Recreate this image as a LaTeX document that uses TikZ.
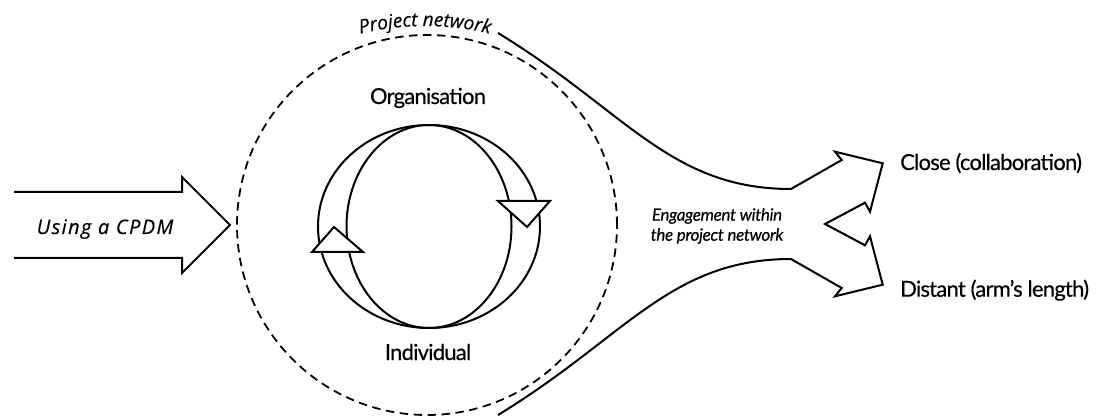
\documentclass[tikz,border=0pt]{standalone}
\usepackage{fontspec}
\setmainfont[LetterSpace=-3.5, FakeBold=0.4]{Lato}
\newfontfamily\cpdmfont[LetterSpace=7, FakeBold=0.3]{Open Sans}
\newfontfamily\netfont[LetterSpace=0, FakeBold=0.3]{Open Sans}
\newfontfamily\engfont[LetterSpace=-2, FakeBold=0.4]{Lato}
\usetikzlibrary{decorations.text}
\tikzset{
  solidline/.style={line width=2pt, line join=miter},
  netline/.style={line width=1.8pt, dash pattern=on 8.5pt off 5.5pt},
  lab/.style={font=\fontsize{22}{24}\selectfont, inner sep=0pt},
  smalllab/.style={font=\engfont\itshape\fontsize{17}{20}\selectfont, inner sep=0pt, align=center},
  head/.style={solidline, fill=white}
}
\begin{document}
\begin{tikzpicture}[x=1pt,y=1pt]
\useasboundingbox (0,0) rectangle (1097,418);

% project network dashed circle
\node[netline, draw, circle, minimum size=380pt, inner sep=0pt] (net) at (427,193) {};
\path[decorate, decoration={text along path,
   text={|\netfont\itshape\fontsize{19}{21}\selectfont|Project network},
   text align=center}]
   (425,116) ++(105:276) arc[start angle=105, end angle=75, radius=276];

% input arrow
\draw[solidline] (14,226) -- (182,226) -- (182,241) -- (230,193) -- (182,145) -- (182,160) -- (14,160);
\node[font=\cpdmfont\itshape\fontsize{20}{22}\selectfont, inner sep=0pt, anchor=base] (cpdm) at (105,184) {Using a CPDM};

% cycle
\coordinate (cyc) at (429,191.5);
\draw[solidline] (cyc) ellipse[x radius=111, y radius=101.5];
\draw[solidline] (cyc) ellipse[x radius=82.5, y radius=101.5];
\draw[head] (498,217) -- (550,217) -- (527,191) -- cycle;
\draw[head] (312,166) -- (363,166) -- (334,191) -- cycle;
\node[lab, anchor=base] (org) at (428,314) {Organisation};
\node[lab, anchor=base] (ind) at (428,58) {Individual};

% funnel
\draw[solidline] (498,385) .. controls (626,307) and (670,229) .. (791,229)
  -- (841.7,258) -- (835,266.3) -- (882.7,254.7) -- (870,206.3) -- (865,215.3)
  -- (825,194)
  -- (865,172.7) -- (870,181.7) -- (882.7,133.3) -- (835,121.7) -- (841.7,130)
  -- (791,159) .. controls (670,159) and (626,81) .. (498,3);
\node[smalllab] (eng) at (717,192) {Engagement within\\the project network};
\node[lab, anchor=base west] (close) at (900,248) {Close (collaboration)};
\node[lab, anchor=base west] (dist) at (900,121.3) {Distant (arm’s length)};
\end{tikzpicture}
\end{document}
